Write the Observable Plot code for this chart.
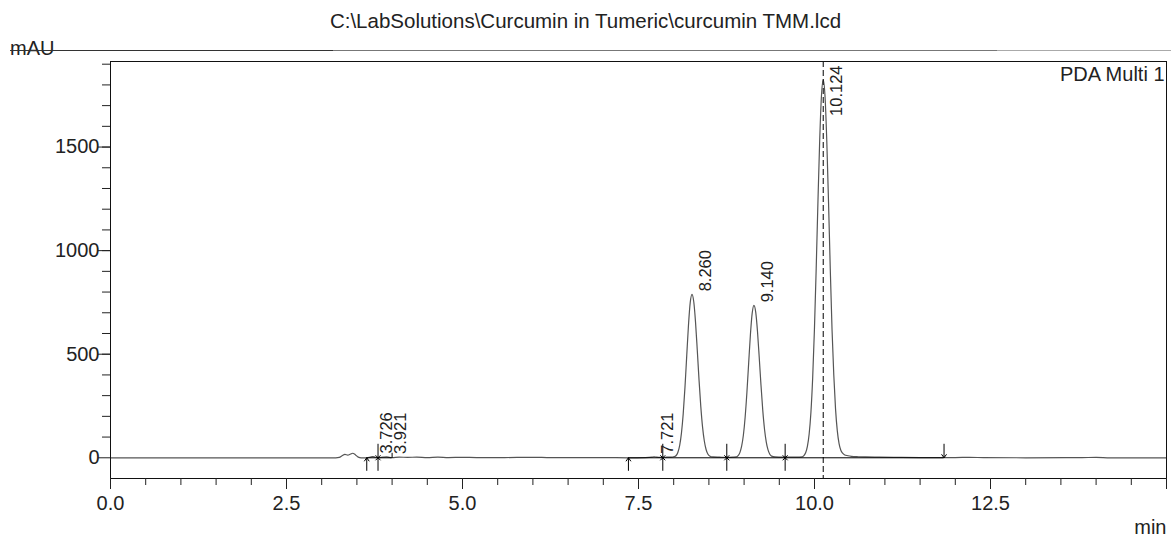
<!DOCTYPE html>
<html><head><meta charset="utf-8">
<script src="https://cdn.jsdelivr.net/npm/d3@7"></script>
<script src="https://cdn.jsdelivr.net/npm/@observablehq/plot@0.6"></script>
<style>
html,body{margin:0;padding:0;background:#fff;}
#wrap{position:relative;width:1171px;height:538px;overflow:hidden;font-family:"Liberation Sans",Arial,sans-serif;color:#222;}
#title{position:absolute;left:0;width:1171px;top:9px;text-align:center;font-size:20.5px;line-height:24px;white-space:nowrap;}
#unit{position:absolute;left:10px;top:36px;font-size:20px;line-height:24px;}
#hdr{position:absolute;left:10px;top:49.5px;width:1161px;height:1.8px;background:linear-gradient(to right,#333 0,#333 27.8%,#777 27.8%,#777 85%,#aaa 85%);}
#chart{position:absolute;left:0;top:0;}
</style></head>
<body>
<div id="wrap">
  <div id="chart"></div>
  <div id="title">C:\LabSolutions\Curcumin in Tumeric\curcumin TMM.lcd</div>
  <div id="unit">mAU</div>
  <div id="hdr"></div>
</div>
<script>
// Chromatogram trace (retention time in min, absorbance in mAU)
const traceTime = [0,1.0,2.0,2.8,3.2,3.25,3.29,3.33,3.37,3.41,3.44,3.48,3.52,3.56,3.64,3.69,3.726,3.76,3.80,3.87,3.921,3.96,4.00,
  4.10,4.22,4.35,4.50,4.65,4.80,5.00,5.20,5.50,6.05,6.20,7.00,7.36,7.60,7.69,7.721,7.76,7.80,7.85,7.90,7.96,
  8.01,8.035,8.06,8.085,8.11,8.135,8.16,8.185,8.21,8.235,8.26,8.285,8.31,8.335,8.36,8.385,8.41,8.435,8.46,8.485,8.51,8.56,8.65,8.75,8.84,
  8.89,8.915,8.94,8.965,8.99,9.015,9.04,9.065,9.09,9.115,9.14,9.165,9.19,9.215,9.24,9.265,9.29,9.315,9.34,9.365,9.39,9.44,9.55,9.66,9.75,
  9.824,9.849,9.874,9.899,9.924,9.949,9.974,9.999,10.024,10.049,10.074,10.099,10.124,10.149,10.174,10.199,10.224,10.249,10.274,10.299,10.324,10.349,10.374,10.399,10.424,10.474,10.524,10.624,10.724,10.924,11.124,11.5,
  12.0,12.2,12.4,13.0,13.8,14.0,14.2,15.0];
const traceMAU = [0,0,0,0,0,2,10,16,13,18,22,14,3,0,0,3,6,3,1,3,4,2,1,
  3,2,3,1,3,1,2,1,1,2,1,1,0,1,3,5,3,2,2,3,3,
  6,11,27,60,119,212,340,492,641,750,789,753,655,519,375,247,148,81,40,18,9,4,3,2,3,
  4,10,25,56,110,197,316,458,596,698,736,703,611,484,350,230,138,76,38,17,8,4,3,3,3,
  4,10,24,55,115,219,385,619,913,1237,1535,1748,1825,1748,1535,1237,913,619,400,235,130,68,36,22,15,10,7,5,4,3,2,1,
  1,2,1,0,1,2,0,0];

// Detected peaks
const peakRT = [3.726, 3.921, 7.721, 8.260, 9.140, 10.124];
const peakHeight = [6, 4, 5, 789, 736, 1825];

// Integration events (min)
const startEvents = [3.64, 7.357];
const separatorEvents = [3.80, 7.845, 8.754, 9.583];
const endEvents = [11.84];
const endTickEvents = [4.0];
const baselineStart = [3.64, 7.357];
const baselineEnd = [4.0, 11.84];

// Axes
const xMajorTicks = [0, 2.5, 5, 7.5, 10, 12.5, 15];
const xMinorTicks = d3.range(0, 15.001, 0.5);
const yMajorTicks = [0, 500, 1000, 1500];
const yMinorTicks = d3.range(100, 1901, 100);
const xDomain = [0, 15];
const yDomain = [-100, 1913];

const W = 1171, H = 538, mL = 110, mR = 5, mT = 61, mB = 60;
const labelFont = 16.5;

const peaks = peakRT.map((rt, i) => ({rt, h: peakHeight[i], label: rt.toFixed(3)}));
const yPix = d3.scaleLinear(yDomain, [H - mB, mT]);
const fits = d => yPix(d.h) - 3 - d.label.length * labelFont * 0.54 > mT + 4;
const maxH = d3.max(peakHeight);

const symStart = {draw(c){ c.moveTo(0,0); c.lineTo(0,13); c.moveTo(-2.5,3.5); c.lineTo(0,0); c.lineTo(2.5,3.5); }};
const symEnd = {draw(c){ c.moveTo(0,0); c.lineTo(0,-14); c.moveTo(-2.5,-3.5); c.lineTo(0,0); c.lineTo(2.5,-3.5); }};
const symSep = {draw(c){ c.moveTo(0,-14); c.lineTo(0,13); c.moveTo(-2.5,-2.5); c.lineTo(2.5,2.5); c.moveTo(-2.5,2.5); c.lineTo(2.5,-2.5); }};
const symTick = {draw(c){ c.moveTo(0,0); c.lineTo(0,-5); }};

const chart = Plot.plot({
  width: W, height: H,
  marginLeft: mL, marginRight: mR, marginTop: mT, marginBottom: mB,
  x: {domain: xDomain},
  y: {domain: yDomain},
  style: {fontFamily: "'Liberation Sans', Arial, sans-serif", color: "#222", background: "transparent", overflow: "visible"},
  marks: [
    Plot.line(traceMAU, {x: traceTime, y: traceMAU, stroke: "#555", strokeWidth: 1.2, curve: "monotone-x"}),
    Plot.ruleY(baselineStart, {x1: baselineStart, x2: baselineEnd, y: 0, stroke: "#000", strokeWidth: 1}),
    Plot.dot(startEvents, {x: d => d, y: 0, symbol: symStart, fill: "none", stroke: "#000", strokeWidth: 1}),
    Plot.dot(separatorEvents, {x: d => d, y: 0, symbol: symSep, fill: "none", stroke: "#000", strokeWidth: 1}),
    Plot.dot(endEvents, {x: d => d, y: 0, symbol: symEnd, fill: "none", stroke: "#000", strokeWidth: 1}),
    Plot.dot(endTickEvents, {x: d => d, y: 0, symbol: symTick, fill: "none", stroke: "#000", strokeWidth: 1}),
    Plot.ruleX(peaks.filter(d => d.h === maxH), {x: "rt", stroke: "#000", strokeWidth: 1, strokeDasharray: "6,3"}),
    Plot.text(peaks.filter(fits), {x: "rt", y: "h", text: "label", rotate: -90, textAnchor: "start", lineAnchor: "middle", dx: 14, dy: -3, fontSize: labelFont, fill: "#222"}),
    Plot.text(peaks.filter(d => !fits(d)), {x: "rt", frameAnchor: "top", text: "label", rotate: -90, textAnchor: "end", lineAnchor: "middle", dx: 13, dy: 4, fontSize: labelFont, fill: "#222"}),
    Plot.text(["PDA Multi 1"], {frameAnchor: "top-right", textAnchor: "end", lineAnchor: "middle", dx: -2, dy: 13.5, fontSize: 20, fill: "#222"}),
    Plot.text(["min"], {frameAnchor: "bottom-right", textAnchor: "end", lineAnchor: "middle", dy: 48.6, fontSize: 20, fill: "#222"}),
    Plot.frame({stroke: "#111", strokeWidth: 1}),
    Plot.axisY({ticks: yMinorTicks, tickSize: 8, tickFormat: () => "", label: null}),
    Plot.axisY({ticks: yMajorTicks, tickSize: 12, tickPadding: -1, fontSize: 20, tickFormat: d => String(d), label: null}),
    Plot.axisX({ticks: xMinorTicks, tickSize: 7, tickFormat: () => "", label: null}),
    Plot.axisX({ticks: xMajorTicks, tickSize: 11, tickPadding: 6, fontSize: 20, tickFormat: d => d >= 15 ? "" : d.toFixed(1), label: null})
  ]
});
document.getElementById("chart").appendChild(chart);
</script>
</body></html>
